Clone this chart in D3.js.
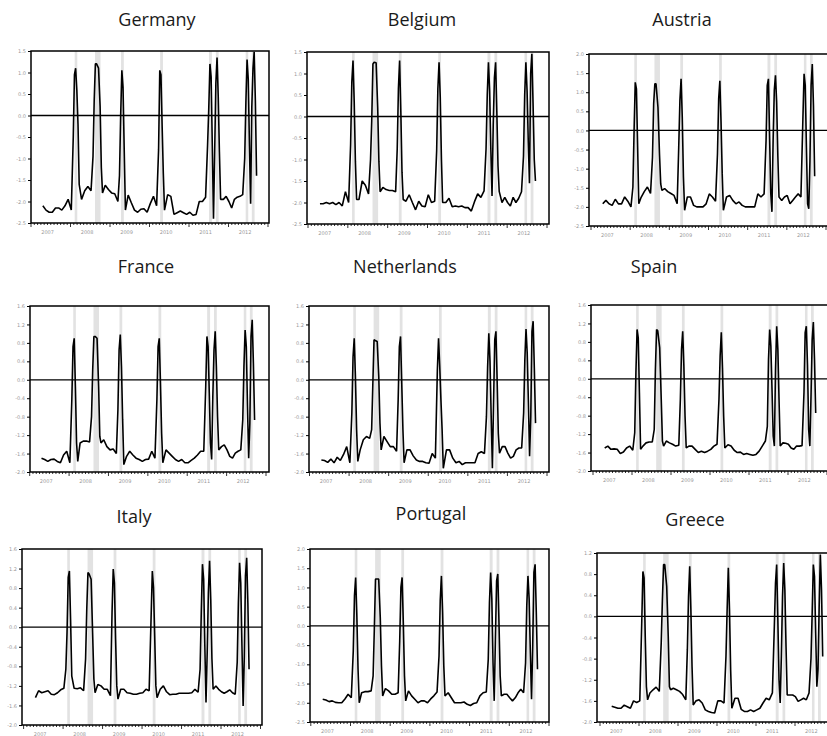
<!DOCTYPE html>
<html>
<head>
<meta charset="utf-8">
<script src="https://cdn.jsdelivr.net/npm/d3@7"></script>
<style>
  body { margin: 0; background: #fff; }
  svg { display: block; }
</style>
</head>
<body>
<div id="chart"></div>
<script>
// sample dates (decimal years), shared by all countries
const dates = [
  2007.30, 2007.38, 2007.46, 2007.54, 2007.62, 2007.70, 2007.78, 2007.86, 2007.94, 2008.02,
  2008.07, 2008.10, 2008.13, 2008.16, 2008.19, 2008.22,
  2008.28, 2008.36, 2008.44, 2008.52,
  2008.57, 2008.60, 2008.63, 2008.66, 2008.71, 2008.75, 2008.78, 2008.81,
  2008.88, 2008.96, 2009.04, 2009.12, 2009.20,
  2009.24, 2009.27, 2009.30, 2009.33, 2009.36, 2009.39,
  2009.46, 2009.54, 2009.62, 2009.70, 2009.78, 2009.86, 2009.94, 2010.02, 2010.10, 2010.18,
  2010.23, 2010.26, 2010.29, 2010.32, 2010.35, 2010.38,
  2010.46, 2010.54, 2010.62, 2010.70, 2010.78, 2010.86, 2010.94, 2011.02, 2011.10, 2011.18, 2011.26, 2011.34, 2011.42,
  2011.47, 2011.50, 2011.53, 2011.56, 2011.59, 2011.62, 2011.65, 2011.68, 2011.71, 2011.74, 2011.77, 2011.80,
  2011.87, 2011.94, 2012.01, 2012.08, 2012.15, 2012.22, 2012.29, 2012.36,
  2012.41, 2012.44, 2012.47, 2012.50, 2012.53, 2012.56, 2012.59, 2012.62, 2012.65, 2012.68, 2012.71
];

// shaded periods
const bands = [
  [2008.106, 2008.172], [2008.62, 2008.76], [2009.28, 2009.35], [2010.27, 2010.34],
  [2011.506, 2011.58], [2011.68, 2011.75], [2012.435, 2012.50], [2012.59, 2012.66]
];

const years = [2007, 2008, 2009, 2010, 2011, 2012];

const countries = ["Germany", "Belgium", "Austria", "France", "Netherlands", "Spain", "Italy", "Portugal", "Greece"];

const germany = [
  -2.1, -2.2, -2.25, -2.25, -2.15, -2.15, -2.2, -2.1, -1.95, -2.2,
  -0.5, 0.95, 1.1, 0.6, -0.2, -1.6,
  -1.95, -1.75, -1.65, -1.75,
  -0.95, 0.35, 1.2, 1.2, 1.1, 0.2, -1.2, -1.8,
  -1.62, -1.72, -1.8, -1.82, -2.0,
  -1.4, 0.0, 1.05, 0.65, -0.8, -2.2,
  -1.85, -2.03, -2.2, -2.25, -2.18, -2.17, -2.25, -2.05, -1.88, -2.1,
  -0.8, 1.05, 0.95, -0.25, -1.35, -2.2,
  -1.84, -1.88, -2.3, -2.26, -2.22, -2.26, -2.3, -2.25, -2.32, -2.3, -2.0, -2.0, -1.9,
  -0.7, 0.15, 1.2, 0.9, -0.7, -2.4, -0.85, 0.75, 1.35, 0.45, -0.85, -1.95,
  -1.95, -1.88, -2.0, -2.15, -1.95, -1.9, -1.88, -1.84,
  -1.0, 0.3, 1.3, 0.85, -0.7, -2.05, 0.2, 1.1, 1.48, 0.35, -1.4
];

const belgium = [
  -2.03, -2.03, -2.0, -2.03, -2.0, -2.05, -2.0, -2.08, -1.75, -2.0,
  -0.65, 0.8, 1.3, 0.35, -1.05, -1.93,
  -1.93, -1.5, -1.6, -1.8,
  -1.0, -0.1, 1.22, 1.26, 1.25, 0.2, -1.05, -1.75,
  -1.65, -1.7, -1.72, -1.72, -1.75,
  -0.75, 0.65, 1.3, 0.13, -1.3, -1.93,
  -1.97, -1.82, -2.0, -2.17, -1.97, -2.08, -2.1, -1.82, -2.0, -1.97,
  -0.8, 0.64, 1.26, 0.45, -1.0, -2.0,
  -2.0, -1.9, -2.1, -2.08, -2.1, -2.08, -2.12, -2.12, -2.2, -1.98, -1.8, -1.88, -1.73,
  -0.75, 0.5, 1.26, 0.6, -0.76, -1.85, -0.2, 0.9, 1.26, 0.13, -1.15, -1.74,
  -2.0, -1.88, -2.0, -2.08, -1.88, -2.0, -1.9, -1.75,
  -0.92, 0.5, 1.26, 0.6, -0.6, -1.55, 1.0, 1.46, 0.3, -1.0, -1.5
];

const austria = [
  -1.92, -1.83, -1.92, -1.96, -1.8, -1.92, -1.92, -1.74, -1.85, -2.0,
  -1.48, 0.0, 1.26, 1.09, -0.4, -1.92,
  -1.75, -1.6, -1.48, -1.65,
  -0.7, 0.7, 1.22, 1.22, 0.6, -0.65, -1.4, -1.57,
  -1.52, -1.6, -1.65, -1.7, -1.92,
  -0.44, 0.78, 1.35, 0.35, -1.22, -2.09,
  -1.74, -1.74, -1.96, -2.0, -2.0, -2.0, -1.92, -1.66, -1.74, -1.85,
  -0.6, 0.83, 1.3, 0.22, -1.13, -2.09,
  -1.74, -1.7, -1.83, -1.92, -1.87, -1.96, -2.0, -2.0, -2.0, -2.0, -1.66, -1.74, -1.66,
  -0.26, 1.18, 1.35, -0.17, -1.65, -2.13, -0.26, 1.05, 1.44, 0.74, -0.65, -1.74,
  -1.83, -1.74, -1.7, -1.92, -1.83, -1.74, -1.66, -1.74,
  0.3, 1.48, 1.18, -0.44, -1.92, -2.05, -0.8, 1.18, 1.74, 0.65, -1.2
];

const france = [
  -1.7, -1.73, -1.77, -1.73, -1.72, -1.77, -1.8, -1.63, -1.55, -1.8,
  -0.43, 0.72, 0.9, -0.14, -1.37, -1.77,
  -1.37, -1.33, -1.33, -1.35,
  -0.8, 0.22, 0.94, 0.94, 0.9, -0.14, -1.23, -1.37,
  -1.3, -1.45, -1.52, -1.5, -1.6,
  -0.65, 0.65, 0.98, 0.29, -0.87, -1.84,
  -1.66, -1.55, -1.63, -1.7, -1.73, -1.77, -1.73, -1.72, -1.55, -1.7,
  -0.43, 0.72, 0.9, -0.07, -1.16, -1.8,
  -1.52, -1.59, -1.66, -1.73, -1.77, -1.73, -1.8, -1.8, -1.75, -1.7, -1.63, -1.55, -1.55,
  -0.14, 0.94, 0.72, -0.29, -1.37, -1.73, -0.36, 0.65, 1.05, 0.29, -0.8, -1.52,
  -1.45, -1.41, -1.52, -1.66, -1.7, -1.59, -1.55, -1.52,
  -0.87, 0.29, 1.08, 0.72, -0.58, -1.7, -0.94, 0.94, 1.3, 0.36, -0.87
];

const netherlands = [
  -1.74, -1.75, -1.79, -1.72, -1.8, -1.68, -1.75, -1.62, -1.45, -1.8,
  -0.72, 0.5, 0.9, 0.07, -1.08, -1.77,
  -1.52, -1.3, -1.23, -1.27,
  -1.08, -0.1, 0.87, 0.85, 0.83, 0.07, -0.94, -1.52,
  -1.23, -1.34, -1.45, -1.45, -1.55,
  -0.43, 0.72, 0.94, -0.07, -1.08, -1.8,
  -1.52, -1.52, -1.65, -1.74, -1.77, -1.77, -1.8, -1.81, -1.6, -1.7,
  0.2, 0.9, 0.3, -0.43, -1.08, -1.92,
  -1.52, -1.52, -1.7, -1.8, -1.77, -1.84, -1.8, -1.8, -1.8, -1.8, -1.6, -1.56, -1.6,
  -0.8, 0.29, 1.01, 0.4, -0.8, -1.92, -0.5, 0.87, 1.05, 0.0, -1.16, -1.59,
  -1.45, -1.45, -1.59, -1.7, -1.66, -1.52, -1.48, -1.48,
  -0.72, 0.43, 1.1, 0.58, -0.5, -1.66, -0.8, 1.05, 1.27, 0.25, -0.94
];

const spain = [
  -1.5, -1.46, -1.53, -1.52, -1.53, -1.62, -1.59, -1.5, -1.46, -1.55,
  -1.17, 0.13, 1.07, 0.89, -0.3, -1.53,
  -1.46, -1.39, -1.37, -1.37,
  -1.1, 0.2, 1.07, 1.04, 0.67, -0.45, -1.35, -1.46,
  -1.35, -1.39, -1.42, -1.46, -1.44,
  -0.45, 0.64, 1.03, 0.27, -0.81, -1.5,
  -1.46, -1.46, -1.53, -1.6, -1.57, -1.6, -1.57, -1.53, -1.46, -1.42,
  -0.45, 0.5, 1.01, 0.24, -0.81, -1.5,
  -1.43, -1.46, -1.55, -1.6, -1.59, -1.64, -1.62, -1.64, -1.66, -1.64, -1.57, -1.46, -1.35,
  -1.03, 0.42, 1.07, 0.71, -0.23, -1.24, -1.46, 0.2, 1.14, 0.64, -0.45, -1.46,
  -1.39, -1.4, -1.42, -1.5, -1.53, -1.46, -1.46, -1.45,
  -0.3, 1.0, 1.14, 0.3, -1.1, -1.46, -0.38, 0.85, 1.23, 0.42, -0.74
];

const italy = [
  -1.44, -1.3, -1.34, -1.32, -1.3, -1.37, -1.38, -1.34, -1.28, -1.25,
  -0.86, -0.11, 1.02, 1.15, 0.16, -1.0,
  -1.25, -1.26, -1.24, -1.3,
  -0.65, 0.37, 1.12, 1.09, 0.98, -0.18, -1.06, -1.34,
  -1.17, -1.2, -1.27, -1.27, -1.4,
  0.3, 1.19, 0.91, -0.25, -1.2, -1.47,
  -1.27, -1.27, -1.34, -1.35, -1.37, -1.37, -1.35, -1.34, -1.27, -1.3,
  0.23, 1.15, 0.81, -0.18, -1.2, -1.44,
  -1.27, -1.2, -1.32, -1.38, -1.37, -1.37, -1.35, -1.35, -1.35, -1.35, -1.34, -1.27, -1.33,
  -0.86, 0.3, 1.29, 0.98, -0.38, -1.54, -0.52, 0.71, 1.36, 0.57, -0.65, -1.27,
  -1.2, -1.27, -1.32, -1.35, -1.32, -1.28, -1.34, -1.37,
  -0.72, 0.5, 1.32, 0.91, -0.38, -1.61, -0.6, 1.05, 1.42, 0.5, -0.86
];

const portugal = [
  -1.91, -1.93, -1.97, -1.95, -1.99, -2.0, -2.0, -1.9, -1.78, -1.87,
  -0.65, 0.78, 1.26, 0.26, -1.13, -2.0,
  -1.74, -1.71, -1.71, -1.69,
  -1.3, -0.09, 1.22, 1.22, 1.22, 0.22, -1.04, -1.82,
  -1.63, -1.69, -1.78, -1.78, -1.74,
  -0.39, 1.0, 1.26, 0.09, -1.3, -1.95,
  -1.69, -1.82, -1.91, -2.0, -1.95, -1.95, -2.0, -1.9, -1.82, -1.72,
  -0.78, 0.65, 1.3, 0.35, -1.04, -1.82,
  -1.74, -1.87, -2.0, -2.0, -2.0, -1.98, -2.04, -2.07, -2.02, -2.0, -1.82, -1.74, -1.72,
  -0.87, 0.6, 1.39, 0.7, -0.96, -1.95, -0.35, 1.17, 1.35, 0.09, -1.3, -1.82,
  -1.78, -1.78, -1.87, -1.95, -1.87, -1.74, -1.65, -1.74,
  -0.96, 0.52, 1.3, 0.7, -0.7, -1.91, -0.5, 1.39, 1.6, 0.35, -1.13
];

const greece = [
  -1.7, -1.72, -1.74, -1.74, -1.68, -1.71, -1.74, -1.6, -1.63, -1.6,
  -0.13, 0.85, 0.73, -0.38, -1.33, -1.58,
  -1.45, -1.39, -1.34, -1.42,
  -0.5, 0.32, 0.98, 0.98, 0.57, -0.38, -1.33, -1.39,
  -1.36, -1.39, -1.42, -1.48, -1.58,
  -0.63, 0.38, 0.95, 0.13, -0.95, -1.68,
  -1.6, -1.58, -1.64, -1.77, -1.8, -1.82, -1.83, -1.6, -1.6, -1.64,
  -0.76, 0.13, 0.92, 0.13, -1.01, -1.74,
  -1.55, -1.55, -1.76, -1.8, -1.8, -1.77, -1.8, -1.77, -1.74, -1.64, -1.55, -1.58, -1.45,
  -0.19, 0.63, 0.98, -0.06, -1.2, -1.64, -0.76, 0.38, 1.01, 0.51, -0.57, -1.49,
  -1.49, -1.49, -1.52, -1.61, -1.58, -1.55, -1.58, -1.45,
  -0.8, 0.06, 0.98, 0.76, -0.32, -1.33, -1.0, 0.2, 1.17, 0.5, -0.76
];

const series = [germany, belgium, austria, france, netherlands, spain, italy, portugal, greece];

// axis ranges per panel: [min, max, step]
const yDomains = [
  [-2.5, 1.5, 0.5], [-2.5, 1.5, 0.5], [-2.5, 2.0, 0.5],
  [-2.0, 1.6, 0.4], [-2.0, 1.6, 0.4], [-2.0, 1.6, 0.4],
  [-2.0, 1.6, 0.4], [-2.5, 2.0, 0.5], [-2.0, 1.2, 0.4]
];

// panel geometry (frame box, x range, title position)
const layout = [
  { box: [31, 51, 269, 223], xr: [31, 268], title: [157, 26] },
  { box: [307, 52, 549, 224], xr: [308, 547], title: [422, 26] },
  { box: [589, 54, 832, 226], xr: [591, 826], title: [682, 26] },
  { box: [30, 306, 269, 472], xr: [29.7, 266], title: [146, 273] },
  { box: [309, 306, 549, 472], xr: [309.5, 547], title: [405, 273] },
  { box: [591, 305, 832, 471], xr: [593, 827], title: [654, 273] },
  { box: [22, 549, 262, 725], xr: [23.6, 260.5], title: [134, 523] },
  { box: [310, 549, 549, 722], xr: [310.8, 549], title: [431, 520] },
  { box: [597, 553, 832, 722], xr: [600, 834], title: [695, 526] }
];

const W = 827, H = 736;
const svg = d3.select("#chart").append("svg")
    .attr("width", W)
    .attr("height", H);

const fmt = d => d3.format(".1f")(d).replace("\u2212", "-");

countries.forEach((name, i) => {
    const L = layout[i];
    const [bx0, by0, bx1, by1] = L.box;
    const [lo, hi, step] = yDomains[i];

    const x = d3.scaleLinear().domain([2007, 2013]).range(L.xr);
    const y = d3.scaleLinear().domain([lo, hi]).range([by1, by0]);

    const g = svg.append("g");

    g.append("clipPath").attr("id", "clip" + i)
        .append("rect")
        .attr("x", bx0).attr("y", by0)
        .attr("width", bx1 - bx0).attr("height", by1 - by0);

    const inner = g.append("g").attr("clip-path", `url(#clip${i})`);

    inner.selectAll("rect.band")
        .data(bands)
        .join("rect")
        .attr("class", "band")
        .attr("x", d => x(d[0]))
        .attr("width", d => x(d[1]) - x(d[0]))
        .attr("y", by0)
        .attr("height", by1 - by0)
        .attr("fill", "#e2e2e2");

    inner.append("line")
        .attr("x1", bx0).attr("x2", bx1)
        .attr("y1", y(0)).attr("y2", y(0))
        .attr("stroke", "#000")
        .attr("stroke-width", 1.3);

    const pts = dates.map((t, k) => [t, series[i][k]]).filter(d => d[1] !== undefined);
    const line = d3.line().x(d => x(d[0])).y(d => y(d[1]));

    inner.append("path")
        .datum(pts)
        .attr("d", line)
        .attr("fill", "none")
        .attr("stroke", "#000")
        .attr("stroke-width", 1.6)
        .attr("stroke-linejoin", "bevel");

    g.append("rect")
        .attr("x", bx0).attr("y", by0)
        .attr("width", bx1 - bx0).attr("height", by1 - by0)
        .attr("fill", "none")
        .attr("stroke", "#000")
        .attr("stroke-width", 1.5);

    // y axis
    const yTicks = d3.range(lo, hi + step / 2, step).map(v => Math.round(v * 10) / 10);
    const yAxis = g.append("g")
        .attr("transform", `translate(${bx0},0)`)
        .call(d3.axisLeft(y).tickValues(yTicks).tickSize(3).tickFormat(fmt));
    yAxis.select(".domain").remove();
    yAxis.selectAll("line").attr("stroke", "#000");
    yAxis.selectAll("text")
        .attr("x", -5)
        .attr("fill", "#999")
        .style("font-family", "DejaVu Sans")
        .style("font-size", "5px");

    // x axis: monthly minor ticks, year boundary major ticks, year labels
    const months = d3.range(2007, 2013.001, 1 / 12);
    const xAxis = g.append("g").attr("transform", `translate(0,${by1})`);
    xAxis.selectAll("line.minor")
        .data(months)
        .join("line")
        .attr("class", "minor")
        .attr("x1", d => x(d)).attr("x2", d => x(d))
        .attr("y1", 0)
        .attr("y2", d => Math.abs(d - Math.round(d)) < 0.01 ? 4 : 2)
        .attr("stroke", "#000")
        .attr("stroke-width", 0.8);
    xAxis.selectAll("text")
        .data(years)
        .join("text")
        .attr("x", d => x(d + 0.42))
        .attr("y", 11)
        .attr("text-anchor", "middle")
        .attr("fill", "#999")
        .style("font-family", "DejaVu Sans")
        .style("font-size", "5px")
        .text(d => d);

    svg.append("text")
        .attr("x", L.title[0])
        .attr("y", L.title[1])
        .attr("text-anchor", "middle")
        .attr("fill", "#1a1a1a")
        .style("font-family", "'Open Sans', sans-serif")
        .style("font-size", "18px")
        .text(name);
});
</script>
</body>
</html>
